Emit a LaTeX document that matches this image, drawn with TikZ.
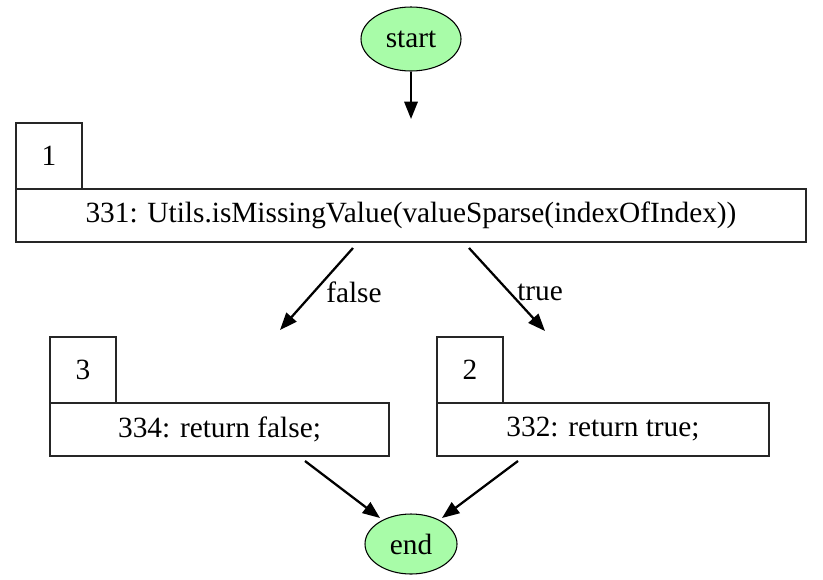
\documentclass[tikz,border=0pt]{standalone}
\usepackage{fontspec}
\setmainfont{Liberation Serif}
\newfontfamily\gvfont{Liberation Serif}
\usetikzlibrary{arrows.meta,shapes.geometric}
\definecolor{nodegreen}{RGB}{168,252,168}
\tikzset{
  px/.style={x=0.75pt,y=-0.75pt},
  gvtext/.style={font=\gvfont\fontsize{22}{25}\selectfont},
  term/.style={ellipse,draw=black,line width=0.8pt,fill=nodegreen,inner sep=0pt,gvtext},
  tabbox/.style={rectangle,draw=black!85,line width=0.8pt,inner sep=0pt,gvtext},
  codebox/.style={rectangle,draw=black!85,line width=0.8pt,inner sep=0pt,gvtext},
  flow/.style={line width=1.7pt,-{Triangle[length=13pt,width=10pt]}},
  elabel/.style={gvtext,inner sep=0pt}
}
\begin{document}
\begin{tikzpicture}[px]
\useasboundingbox (0,0) rectangle (823,579);
% start / end
\node[term,minimum width=75pt,minimum height=48pt] (start) at (411,39) {start};
\node[term,minimum width=69pt,minimum height=45pt] (end) at (411,544) {end};
% node 1
\node[tabbox,minimum width=49.5pt,minimum height=49.5pt] (t1) at (49,156) {1};
\node[codebox,minimum width=592.5pt,minimum height=39.75pt] (b1) at (411,215.5) {331: Utils.isMissingValue(valueSparse(indexOfIndex))};
% node 3
\node[tabbox,minimum width=49.5pt,minimum height=49.5pt] (t3) at (83,370) {3};
\node[codebox,minimum width=254.25pt,minimum height=39.75pt] (b3) at (219.5,429.5) {334: return false;};
% node 2
\node[tabbox,minimum width=49.5pt,minimum height=49.5pt] (t2) at (470,370) {2};
\node[codebox,minimum width=249pt,minimum height=39.75pt] (b2) at (603,429.5) {332: return true;};
% edge end points
\coordinate (in1) at (411,119);
\coordinate (o1f) at (353,248);
\coordinate (in3) at (280,330);
\coordinate (o1t) at (469,248);
\coordinate (in2) at (545,331);
\coordinate (o3) at (305,461);
\coordinate (o2) at (518,461);
\coordinate (inEl) at (380,518);
\coordinate (inEr) at (442,518);
% edges
\draw[flow] (start.south) -- (in1);
\draw[flow] (o1f) -- (in3);
\draw[flow] (o1t) -- (in2);
\draw[flow] (o3) -- (inEl);
\draw[flow] (o2) -- (inEr);
\node[elabel,anchor=west] (lf) at (326,292) {false};
\node[elabel,anchor=west] (lt) at (517,292) {true};
\end{tikzpicture}
\end{document}
